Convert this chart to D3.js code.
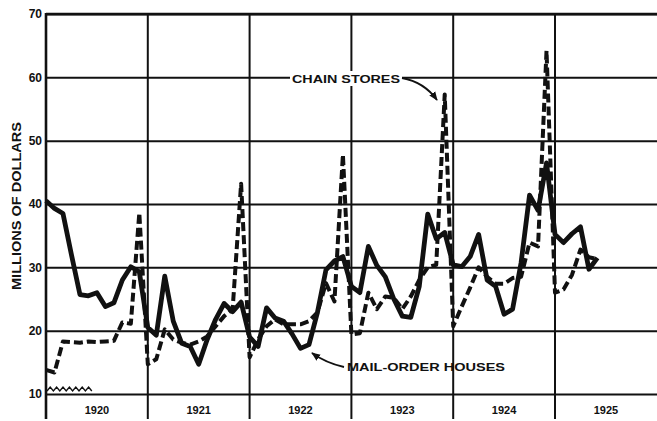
<!DOCTYPE html>
<html>
<head>
<meta charset="utf-8">
<script src="https://cdn.jsdelivr.net/npm/d3@7"></script>
<style>
  body { margin: 0; background: #fff; }
  svg { display: block; }
  text { font-family: "Liberation Sans", Arial, sans-serif; font-weight: bold; fill: #111; }
</style>
</head>
<body>
<div id="chart-area"></div>
<script>
// monthly values, Jan 1920 .. Jun 1925 (millions of dollars)
var mailOrder = [
  40.5, 39.3, 38.5, 32.0, 25.7, 25.5, 26.0, 23.8, 24.4, 28.0, 30.1, 29.3,
  20.5, 19.3, 28.6, 21.5, 18.0, 17.5, 14.7, 18.6, 21.8, 24.3, 23.0, 24.5,
  19.0, 17.5, 23.6, 22.0, 21.5, 19.5, 17.2, 17.8, 22.9, 29.6, 31.0, 31.7,
  27.0, 26.0, 33.3, 30.3, 28.5, 25.0, 22.3, 22.1, 27.0, 38.4, 34.5, 35.5,
  30.4, 30.1, 31.7, 35.2, 28.0, 27.0, 22.6, 23.4, 30.7, 41.4, 39.0, 46.5,
  35.2, 33.9, 35.3, 36.4, 29.7, 31.5
];
var chainStores = [
  13.8, 13.4, 18.3, 18.2, 18.1, 18.3, 18.2, 18.3, 18.4, 21.3, 21.1, 38.6,
  14.7, 15.5, 20.2, 18.6, 18.1, 17.8, 18.3, 19.1, 20.7, 22.3, 23.4, 43.2,
  15.8, 18.6, 20.7, 21.8, 21.0, 21.0, 21.0, 21.5, 22.9, 27.5, 24.6, 47.8,
  19.4, 19.6, 26.0, 23.4, 25.4, 25.2, 23.4, 25.4, 28.0, 30.0, 30.4, 57.3,
  20.7, 23.8, 26.8, 30.0, 28.5, 27.4, 27.4, 28.3, 28.5, 33.9, 33.3, 64.2,
  26.0, 26.5, 28.8, 32.8, 31.6, 31.3
];
var years = [1920, 1921, 1922, 1923, 1924, 1925];
var yearBounds = [1921, 1922, 1923, 1924, 1925];
var yTicks = [10, 20, 30, 40, 50, 60, 70];

var width = 657, height = 421;
var svg = d3.select("#chart-area").append("svg")
    .attr("width", width)
    .attr("height", height);

var x = d3.scaleLinear().domain([1920, 1926]).range([46, 656.8]);
var y = d3.scaleLinear().domain([10, 70]).range([394, 14]);
var t = (i) => 1920 + i / 12;

// horizontal grid + tick labels
var yAxis = svg.append("g")
    .attr("transform", "translate(46,0)")
    .call(d3.axisLeft(y).tickValues(yTicks).tickSize(-(width - 46)).tickPadding(4));
yAxis.select(".domain").remove();
yAxis.selectAll(".tick line").attr("stroke", "#111").attr("stroke-width", 2);
yAxis.selectAll(".tick text").style("font-size", "12px").attr("fill", "#111");

// year boundaries
svg.selectAll("line.year").data(yearBounds).enter()
  .append("line").attr("class", "year")
    .attr("x1", d => x(d)).attr("x2", d => x(d))
    .attr("y1", 14).attr("y2", 419)
    .attr("stroke", "#111").attr("stroke-width", 2);

// left axis & top border
svg.append("line").attr("x1", x(1920)).attr("x2", x(1920)).attr("y1", 13).attr("y2", 419)
    .attr("stroke", "#111").attr("stroke-width", 2.6);
svg.append("line").attr("x1", x(1920)).attr("x2", width).attr("y1", 14).attr("y2", 14)
    .attr("stroke", "#111").attr("stroke-width", 2.4);

// zero-break zigzag
var zz = d3.range(0, 15).map(i => [x(1920) + 1 + i * 3.2, i % 2 ? 387 : 391]);
svg.append("path").attr("d", d3.line()(zz))
    .attr("fill", "none").attr("stroke", "#111").attr("stroke-width", 1.4);

// year labels
svg.selectAll("text.yr").data(years).enter()
  .append("text").attr("class", "yr")
    .attr("x", d => x(d + 0.5)).attr("y", 414)
    .attr("text-anchor", "middle").style("font-size", "11px")
    .text(d => d);

// y title
svg.append("text")
    .attr("transform", "translate(21,206) rotate(-90)")
    .attr("text-anchor", "middle")
    .attr("textLength", 168).attr("lengthAdjust", "spacingAndGlyphs")
    .style("font-size", "12px")
    .text("MILLIONS OF DOLLARS");

var line = d3.line().x((d, i) => x(t(i))).y(d => y(d));

svg.append("path").datum(chainStores)
    .attr("d", line).attr("fill", "none")
    .attr("stroke", "#111").attr("stroke-width", 4)
    .attr("stroke-dasharray", "9,4").attr("stroke-linejoin", "round");

svg.append("path").datum(mailOrder)
    .attr("d", line).attr("fill", "none")
    .attr("stroke", "#111").attr("stroke-width", 4.8)
    .attr("stroke-linejoin", "round");

// arrow marker
svg.append("defs").append("marker")
    .attr("id", "arr").attr("viewBox", "0 0 10 10")
    .attr("refX", 9).attr("refY", 5)
    .attr("markerWidth", 9).attr("markerHeight", 9)
    .attr("markerUnits", "userSpaceOnUse")
    .attr("orient", "auto")
  .append("path").attr("d", "M0,1 L10,5 L0,9 Z").attr("fill", "#111");

// labels
svg.append("rect").attr("x", 290).attr("y", 71).attr("width", 112).attr("height", 15).attr("fill", "#fff");
svg.append("text").attr("x", 346).attr("y", 83)
    .attr("text-anchor", "middle")
    .attr("textLength", 108).attr("lengthAdjust", "spacingAndGlyphs")
    .style("font-size", "11.5px").text("CHAIN STORES");
svg.append("path").attr("d", "M402,78 Q424,82 437,100")
    .attr("fill", "none").attr("stroke", "#111").attr("stroke-width", 1.8)
    .attr("marker-end", "url(#arr)");

svg.append("text").attr("x", 426).attr("y", 371)
    .attr("text-anchor", "middle")
    .attr("textLength", 158).attr("lengthAdjust", "spacingAndGlyphs")
    .style("font-size", "11.5px").text("MAIL-ORDER HOUSES");
svg.append("path").attr("d", "M344,367 Q326,363 312,353")
    .attr("fill", "none").attr("stroke", "#111").attr("stroke-width", 1.8)
    .attr("marker-end", "url(#arr)");
</script>
</body>
</html>
